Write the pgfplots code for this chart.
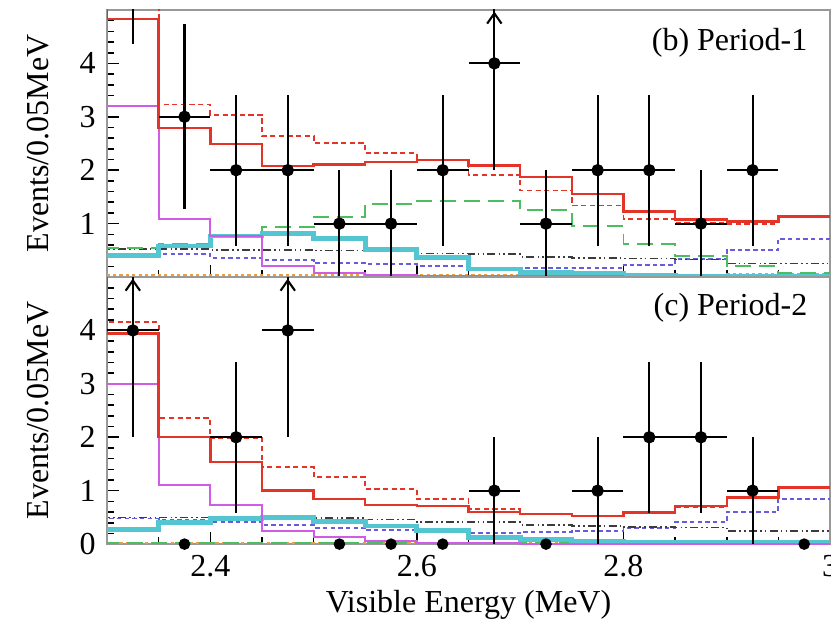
\documentclass[border=0pt]{standalone}
\usepackage{fontspec}
\setmainfont{Liberation Serif}
\usepackage{pgfplots}
\pgfplotsset{compat=1.18}
\usepackage{pgfplotstable}
\usetikzlibrary{arrows.meta}

\definecolor{hred}{RGB}{228,52,40}
\definecolor{hmag}{RGB}{206,92,230}
\definecolor{hgrn}{RGB}{76,190,96}
\definecolor{hcyan}{RGB}{84,198,210}
\definecolor{hblue}{RGB}{104,92,220}
\definecolor{hdd}{RGB}{60,60,60}
\definecolor{horg}{RGB}{232,160,60}

% Period-1 histograms (left bin edge; last row closes the histogram at 3.0)
\pgfplotstableread{
x    red  rdot mag  grn  cyan dd   blue org
2.25 8    8    8    0.55 0.40 0.52 0.43 0.03
2.30 4.83 8    3.21 0.55 0.40 0.52 0.43 0.03
2.35 2.79 3.23 1.08 0.62 0.58 0.52 0.43 0.03
2.40 2.49 3.04 0.77 0.74 0.77 0.51 0.36 0.03
2.45 2.08 2.64 0.20 0.93 0.81 0.51 0.32 0.03
2.50 2.11 2.51 0.08 1.12 0.72 0.50 0.26 0.03
2.55 2.15 2.32 0.03 1.36 0.52 0.48 0.24 0.03
2.60 2.19 2.20 0.02 1.43 0.36 0.44 0.21 0.03
2.65 2.09 1.91 0.02 1.43 0.15 0.43 0.17 0.03
2.70 1.87 1.62 0.02 1.25 0.08 0.38 0.17 0.03
2.75 1.56 1.34 0.02 0.96 0.06 0.36 0.17 0.03
2.80 1.23 1.09 0.01 0.62 0.03 0.35 0.23 0.03
2.85 1.08 1.01 0.01 0.40 0.02 0.33 0.34 0.03
2.90 1.04 1.00 0.01 0.21 0.02 0.25 0.51 0.05
2.95 1.13 1.13 0.01 0.08 0.02 0.25 0.72 0.05
3.00 1.13 1.13 0.01 0.08 0.02 0.25 0.72 0.05
}\histA

% Period-2 histograms
\pgfplotstableread{
x    red  rdot mag  grn  cyan dd   blue org
2.25 8    8    3.70 0.02 0.28 0.50 0.48 0.02
2.30 3.94 4.15 3.00 0.02 0.28 0.50 0.48 0.02
2.35 2.00 2.36 1.11 0.02 0.41 0.50 0.46 0.02
2.40 1.54 1.99 0.73 0.02 0.48 0.50 0.41 0.02
2.45 1.00 1.45 0.24 0.02 0.50 0.50 0.35 0.02
2.50 0.84 1.25 0.13 0.02 0.43 0.49 0.31 0.02
2.55 0.73 1.03 0.06 0.02 0.34 0.46 0.26 0.02
2.60 0.71 0.84 0.02 0.02 0.26 0.41 0.22 0.02
2.65 0.60 0.65 0.02 0.02 0.13 0.41 0.20 0.02
2.70 0.56 0.56 0.01 0.02 0.08 0.36 0.22 0.02
2.75 0.53 0.53 0.01 0.02 0.05 0.34 0.25 0.02
2.80 0.59 0.59 0.01 0.02 0.03 0.32 0.30 0.02
2.85 0.71 0.70 0.01 0.02 0.03 0.31 0.41 0.02
2.90 0.87 0.86 0.01 0.02 0.03 0.24 0.60 0.02
2.95 1.06 1.06 0.01 0.02 0.03 0.24 0.84 0.02
3.00 1.06 1.06 0.01 0.02 0.03 0.24 0.84 0.02
}\histB

% data points
\pgfplotstableread{
x     y ey
2.375 3 1.732
2.425 2 1.414
2.475 2 1.414
2.525 1 1
2.575 1 1
2.625 2 1.414
2.675 4 2
2.725 1 1
2.775 2 1.414
2.825 2 1.414
2.875 1 1
2.925 2 1.414
}\dataA
\pgfplotstableread{
x     y ey
2.325 4 2
2.425 2 1.414
2.475 4 2
2.675 1 1
2.775 1 1
2.825 2 1.414
2.875 2 1.414
2.925 1 1
}\dataB
\pgfplotstableread{
x     y
2.375 0
2.525 0
2.575 0
2.625 0
2.725 0
2.975 0
}\zeroB

\begin{document}
\begin{tikzpicture}
\useasboundingbox (-33.44pt,-23.1pt) rectangle (226.2pt,170.0pt);
\pgfplotsset{
  panel/.style={
    width=225.9pt, height=83.44pt, scale only axis,
    xmin=2.3, xmax=3.0, ymin=0, ymax=5,
    axis line style={gray!80},
    tick align=inside,
    xtick pos=bottom, ytick pos=left,
    major tick length=3.75pt, minor tick length=2.2pt,
    tick style={black, line width=0.5pt},
    xtick={2.4,2.6,2.8,3.0},
    minor xtick={2.35,2.45,2.5,2.55,2.65,2.7,2.75,2.85,2.9,2.95},
    ytick={0,1,2,3,4},
    minor ytick={0.2,0.4,0.6,0.8,1.2,1.4,1.6,1.8,2.2,2.4,2.6,2.8,3.2,3.4,3.6,3.8,4.2,4.4,4.6,4.8},
    /pgf/number format/assume math mode=true,
    tick label style={font=\fontsize{10}{12}\selectfont},
    label style={font=\fontsize{10}{12}\selectfont},
    ylabel={Events/0.05MeV},
    every axis y label/.style={at={(rel axis cs:-0.0956,0.5)}, rotate=90, anchor=center},
    every axis x label/.style={at={(rel axis cs:0.5,-0.229)}, anchor=center},
  },
  sred/.style={const plot, color=hred, line width=0.75pt},
  srdot/.style={const plot, color=hred, line width=0.6pt, dash pattern=on 1.6pt off 1.1pt},
  smag/.style={const plot, color=hmag, line width=0.6pt},
  sgrn/.style={const plot, color=hgrn, line width=0.6pt, dash pattern=on 5pt off 2.5pt},
  scyan/.style={const plot, color=hcyan, line width=1.5pt},
  sdd/.style={const plot, color=hdd, line width=0.5pt, dash pattern=on 2.5pt off 1pt on 0.5pt off 1pt on 0.5pt off 1pt},
  sblue/.style={const plot, color=hblue, line width=0.6pt, dash pattern=on 1.4pt off 1pt},
  sorg/.style={const plot, color=horg, line width=0.6pt, dash pattern=on 1pt off 1pt},
  sdat/.style={black, line width=0.65pt, only marks, mark=*, mark size=1.6pt,
    error bars/x dir=both, error bars/x fixed=0.025,
    error bars/y dir=both, error bars/y explicit,
    error bars/error mark=none,
    error bars/error bar style={line width=0.65pt, black}},
  sarr/.style={black, line width=0.65pt, -{Straight Barb[length=3.2pt,width=4.5pt]},
    quiver={u=0, v=\thisrow{v}}},
}
% ---------- top panel ----------
\begin{axis}[panel, at={(0,83.44pt)}, anchor=south west,
  xticklabels={}, yticklabels={{},1,2,3,4}]
\addplot[sorg]  table[x=x,y=org]{\histA};
\addplot[sblue] table[x=x,y=blue]{\histA};
\addplot[sdd]   table[x=x,y=dd]{\histA};
\addplot[sgrn]  table[x=x,y=grn]{\histA};
\addplot[scyan] table[x=x,y=cyan]{\histA};
\addplot[smag]  table[x=x,y=mag]{\histA};
\addplot[srdot] table[x=x,y=rdot]{\histA};
\addplot[sred]  table[x=x,y=red]{\histA};
\addplot[sdat] table[x=x,y=y,y error=ey]{\dataA};
\addplot[sdat, mark=none] table[x=x,y=y,y error=ey]{
x y ey
2.325 7 2.646
};
\addplot[sarr] table{
x y v
2.675 4.5 0.47
};
\node[anchor=east, inner sep=0pt, font=\fontsize{10}{12}\selectfont] at (rel axis cs:0.9696,0.876) {(b) Period-1};
\end{axis}
% ---------- bottom panel ----------
\begin{axis}[panel, at={(0,0)}, anchor=south west,
  xlabel={Visible Energy (MeV)}]
\addplot[sorg]  table[x=x,y=org]{\histB};
\addplot[sblue] table[x=x,y=blue]{\histB};
\addplot[sdd]   table[x=x,y=dd]{\histB};
\addplot[sgrn]  table[x=x,y=grn]{\histB};
\addplot[scyan] table[x=x,y=cyan]{\histB};
\addplot[smag]  table[x=x,y=mag]{\histB};
\addplot[srdot] table[x=x,y=rdot]{\histB};
\addplot[sred]  table[x=x,y=red]{\histB};
\addplot[sdat] table[x=x,y=y,y error=ey]{\dataB};
\addplot[black, only marks, mark=*, mark size=1.6pt] table[x=x,y=y]{\zeroB};
\addplot[sarr] table{
x y v
2.325 4.5 0.47
2.475 4.5 0.47
};
\node[anchor=east, inner sep=0pt, font=\fontsize{10}{12}\selectfont] at (rel axis cs:0.9696,0.884) {(c) Period-2};
\end{axis}
\end{tikzpicture}
\end{document}
